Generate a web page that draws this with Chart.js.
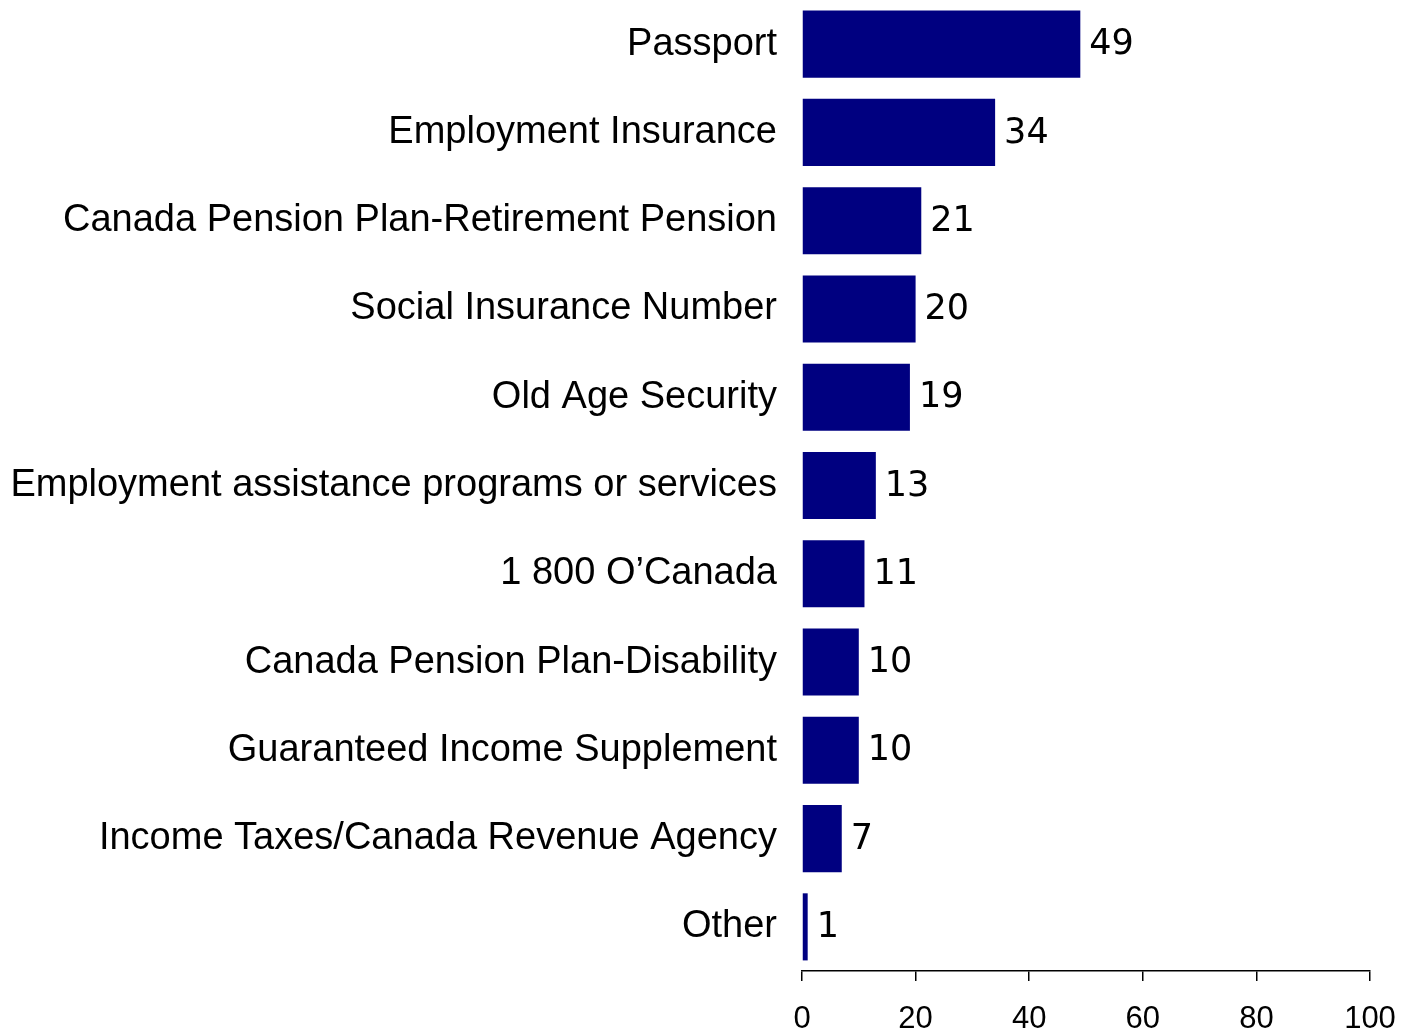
<!DOCTYPE html>
<html lang="en">
  <head>
    <meta charset="UTF-8" />
    <title>Services used</title>
    <script src="https://cdn.jsdelivr.net/npm/chart.js"></script>
    <style>
      body { margin: 0; background: #fff; }
    </style>
  </head>
  <body>
    <canvas id="servicesChart" width="1401" height="1032"></canvas>
    <script>
      const categories = [
        "Passport",
        "Employment Insurance",
        "Canada Pension Plan-Retirement Pension",
        "Social Insurance Number",
        "Old Age Security",
        "Employment assistance programs or services",
        "1 800 O\u2019Canada",
        "Canada Pension Plan-Disability",
        "Guaranteed Income Supplement",
        "Income Taxes/Canada Revenue Agency",
        "Other",
      ];
      const values = [49, 34, 21, 20, 19, 13, 11, 10, 10, 7, 1];
      const xTicks = [0, 20, 40, 60, 80, 100];

      // draws the value to the right of each bar
      const valueLabels = {
        id: "valueLabels",
        afterDatasetsDraw(chart) {
          const ctx = chart.ctx;
          const meta = chart.getDatasetMeta(0);
          ctx.save();
          ctx.font = "35px 'DejaVu Sans'";
          ctx.fillStyle = "#000";
          ctx.textAlign = "left";
          ctx.textBaseline = "middle";
          meta.data.forEach((bar, i) => {
            ctx.fillText(String(values[i]), bar.x + 9, bar.y + 1);
          });
          ctx.restore();
        },
      };

      const ctx = document.getElementById("servicesChart").getContext("2d");
      new Chart(ctx, {
        type: "bar",
        data: {
          labels: categories,
          datasets: [
            {
              data: values,
              backgroundColor: "#000080",
              borderWidth: 0,
              categoryPercentage: 1,
              barPercentage: 0.76,
            },
          ],
        },
        options: {
          indexAxis: "y",
          responsive: false,
          animation: false,
          layout: { padding: { top: 0, right: 31, bottom: 0, left: 0 } },
          plugins: {
            legend: { display: false },
            tooltip: { enabled: false },
          },
          scales: {
            y: {
              grid: { display: false },
              border: { display: false },
              ticks: {
                color: "#000",
                font: { family: "'Liberation Sans', Arial", size: 38 },
                padding: 17,
              },
              afterFit(scale) {
                scale.width = 802;
                scale.paddingTop = 0;
                scale.paddingBottom = 0;
              },
            },
            x: {
              min: 0,
              max: 100,
              afterBuildTicks(scale) {
                scale.ticks = xTicks.map((v) => ({ value: v }));
              },
              grid: {
                drawOnChartArea: false,
                drawTicks: true,
                tickLength: 10,
                color: "#000",
                lineWidth: 1.5,
              },
              border: { display: true, color: "#000", width: 1.5 },
              ticks: {
                color: "#000",
                font: { family: "'Liberation Sans', Arial", size: 31 },
                padding: 20,
                maxRotation: 0,
              },
              afterFit(scale) {
                scale.height = 61;
                scale.paddingLeft = 0;
                scale.paddingRight = 0;
              },
            },
          },
        },
        plugins: [valueLabels],
      });
    </script>
  </body>
</html>
